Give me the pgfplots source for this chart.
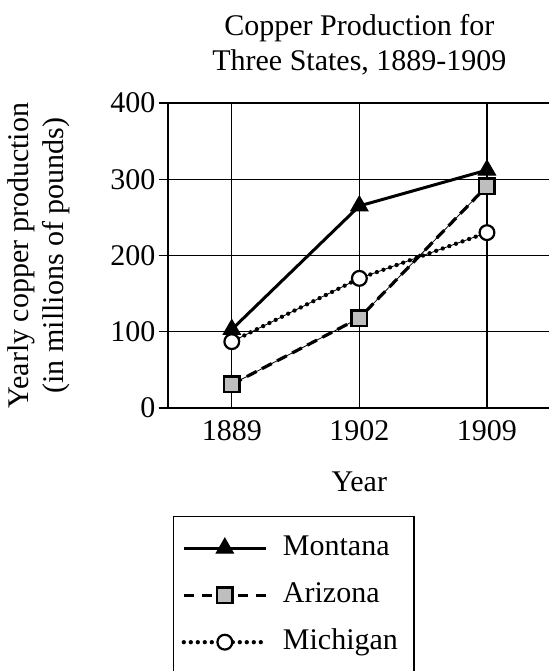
\documentclass[border=0pt]{standalone}
\usepackage{fontspec}
\setmainfont{Liberation Serif}
\usepackage{pgfplots}
\pgfplotsset{compat=1.18}
\definecolor{mgray}{RGB}{190,190,190}
\begin{document}
\begin{tikzpicture}[font=\fontsize{30bp}{35bp}\selectfont]
\begin{axis}[
  name=ax, at={(0,0)}, anchor=south west,
  scale only axis, width=382.75bp, height=305bp,
  xmin=-0.5, xmax=2.5, ymin=0, ymax=400,
  xtick={0,1,2}, xticklabels={1889,1902,1909},
  ytick={0,100,200,300,400},
  axis x line*=bottom, axis y line*=left,
  axis line style={line width=1.4bp, -},
  grid=major, major grid style={black, line width=1.2bp},
  tick align=outside, major tick length=9bp,
  ytick style={black, line width=1.2bp},
  xtick style={draw=none},
  /pgf/number format/assume math mode=true,
  ticklabel style={font=\fontsize{30bp}{35bp}\selectfont},
  title={Copper Production for\\Three States, 1889-1909},
  title style={align=center, font=\fontsize{30bp}{35bp}\selectfont, at={(axis description cs:0.5,1)}, anchor=south, yshift=18bp},
  ylabel={Yearly copper production\\(in millions of pounds)},
  ylabel style={align=center, font=\fontsize{30bp}{35bp}\selectfont, at={(axis description cs:-0.337,0.5)}, anchor=center},
  xlabel={Year},
  xlabel style={font=\fontsize{30bp}{35bp}\selectfont, at={(axis description cs:0.5,-0.275)}, anchor=base},
  legend image code/.code={\draw[mark repeat=2,mark phase=2] plot coordinates {(0bp,0bp)(41bp,0bp)(82bp,0bp)};},
  legend cell align=left,
  legend style={at={(axis description cs:0.013,-0.354)}, anchor=north west, draw=black, line width=1.4bp,
    inner xsep=8bp, inner ysep=8bp, row sep=0bp, column sep=13bp,
    font=\fontsize{30bp}{35bp}\selectfont,
    nodes={inner ysep=9.5bp, text height=21bp, text depth=7bp}},
]
\addplot[black, line width=3bp, mark=triangle*, mark size=10bp, mark options={fill=black, line width=1bp}]
  coordinates {(0,103) (1,265) (2,312)};
\addlegendentry{Montana}
\addplot[black, line width=0.8bp, forget plot] coordinates {(0,31) (1,118) (2,291)};
\addplot[black, line width=3.2bp, dash pattern=on 11bp off 6bp, mark=square*, mark size=7.75bp,
  mark options={fill=mgray, draw=black, line width=2.5bp, solid},
  legend image post style={dash pattern=on 10bp off 8bp}]
  coordinates {(0,31) (1,118) (2,291)};
\addlegendentry{Arizona}
\addplot[black, line width=0.8bp, forget plot] coordinates {(0,87) (1,170) (2,230)};
\addplot[black, line width=4.3bp, line cap=round, dash pattern=on 0bp off 7bp, mark=*, mark size=7.4bp,
  mark options={fill=white, draw=black, line width=2.2bp, solid}]
  coordinates {(0,87) (1,170) (2,230)};
\addlegendentry{Michigan\hspace*{6bp}}
\end{axis}
\pgfresetboundingbox
\path[use as bounding box] (-168bp,-263bp) rectangle (381bp,408bp);
\end{tikzpicture}
\end{document}
